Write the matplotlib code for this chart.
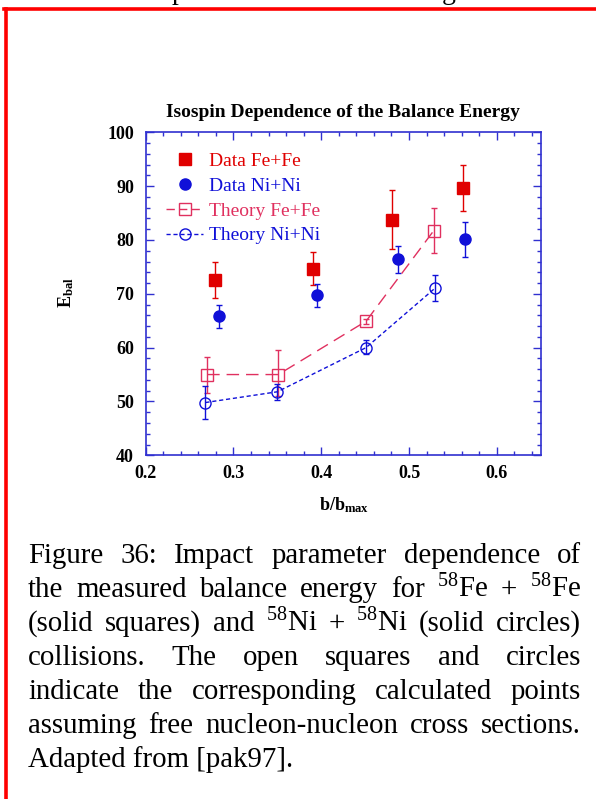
import matplotlib
matplotlib.use("Agg")
import matplotlib.pyplot as plt
from matplotlib.lines import Line2D
from matplotlib.ticker import MultipleLocator

plt.rcParams['font.family'] = ['Liberation Serif', 'DejaVu Serif']
plt.rcParams['mathtext.fontset'] = 'custom'
plt.rcParams['mathtext.rm'] = 'Liberation Serif'
plt.rcParams['mathtext.bf'] = 'Liberation Serif:bold'
plt.rcParams['mathtext.it'] = 'Liberation Serif:italic'

# ---- data ----
fe_data_x = [0.279, 0.391, 0.481, 0.562]
fe_data_y = [72.6, 74.6, 83.7, 89.7]
fe_data_lo = [69.2, 71.6, 78.4, 85.3]
fe_data_hi = [75.9, 77.7, 89.3, 94.0]

ni_data_x = [0.284, 0.395, 0.487, 0.564]
ni_data_y = [65.9, 69.8, 76.5, 80.2]
ni_data_lo = [63.6, 67.6, 73.8, 76.9]
ni_data_hi = [68.0, 71.8, 78.9, 83.4]

fe_th_x = [0.270, 0.351, 0.451, 0.528]
fe_th_y = [55.0, 55.0, 64.9, 81.7]
fe_th_lo = [51.6, 51.0, 64.4, 77.5]
fe_th_hi = [58.2, 59.5, 65.4, 85.9]

ni_th_x = [0.268, 0.350, 0.451, 0.530]
ni_th_y = [49.8, 51.8, 60.0, 71.1]
ni_th_lo = [46.7, 50.3, 58.8, 68.7]
ni_th_hi = [52.9, 53.2, 61.4, 73.4]

labels = ["Data Fe+Fe", "Data Ni+Ni", "Theory Fe+Fe", "Theory Ni+Ni"]

x_ticks = [0.2, 0.3, 0.4, 0.5, 0.6]
x_tick_labels = ["0.2", "0.3", "0.4", "0.5", "0.6"]
y_ticks = [40, 50, 60, 70, 80, 90, 100]
y_tick_labels = ["40", "50", "60", "70", "80", "90", "100"]

title = "Isospin Dependence of the Balance Energy"
caption_lines = [
    "Figure 36: Impact parameter dependence of",
    "the measured balance energy for $^{58}$Fe + $^{58}$Fe",
    "(solid squares) and $^{58}$Ni + $^{58}$Ni (solid circles)",
    "collisions. The open squares and circles",
    "indicate the corresponding calculated points",
    "assuming free nucleon-nucleon cross sections.",
    "Adapted from [pak97].",
]

RED = '#e00000'
PINK = '#e0305f'
BLUE = '#1010d8'
SPINE = '#3030d0'

W, H = 596, 799
fig = plt.figure(figsize=(W / 100, H / 100), dpi=100)

def fx(px):
    return px / W

def fy(py):
    return 1 - py / H

ax = fig.add_axes([fx(145.7), fy(455.3), fx(540.7) - fx(145.7), fy(132.3) - fy(455.3)])

def err(y, lo, hi):
    return [[a - b for a, b in zip(y, lo)], [b - a for a, b in zip(y, hi)]]

ax.errorbar(fe_data_x, fe_data_y, yerr=err(fe_data_y, fe_data_lo, fe_data_hi),
            fmt='s', color=RED, ms=8, elinewidth=1, capsize=2, capthick=1)
ax.errorbar(ni_data_x, ni_data_y, yerr=err(ni_data_y, ni_data_lo, ni_data_hi),
            fmt='o', color=BLUE, ms=8, elinewidth=1, capsize=2, capthick=1)
ax.errorbar(fe_th_x, fe_th_y, yerr=err(fe_th_y, fe_th_lo, fe_th_hi),
            fmt='s', color=PINK, mfc='none', ms=8, mew=1, elinewidth=1, capsize=2, capthick=1,
            ls=(0, (9, 5)), lw=1)
ax.errorbar(ni_th_x, ni_th_y, yerr=err(ni_th_y, ni_th_lo, ni_th_hi),
            fmt='o', color=BLUE, mfc='none', ms=8, mew=1, elinewidth=1, capsize=2, capthick=1,
            ls=(0, (3, 2)), lw=1)

ax.set_xlim(0.2, 0.65)
ax.set_ylim(40, 100)
ax.set_xticks(x_ticks)
ax.set_xticklabels(x_tick_labels, fontweight='bold', fontsize=13)
ax.set_yticks(y_ticks)
ax.set_yticklabels(y_tick_labels, fontweight='bold', fontsize=13)
ax.xaxis.set_minor_locator(MultipleLocator(0.02))
ax.yaxis.set_minor_locator(MultipleLocator(2))
ax.tick_params(which='both', direction='in', top=True, right=True, color=SPINE, width=1)
ax.tick_params(which='major', length=6)
ax.tick_params(axis='x', which='major', pad=7)
ax.tick_params(axis='y', which='major', pad=8.5)
ax.tick_params(which='minor', length=3)
for s in ax.spines.values():
    s.set_color(SPINE)
    s.set_linewidth(1.2)

ax.set_title(title, fontsize=14, fontweight='bold', pad=11)

handles = [
    Line2D([], [], marker='s', color=RED, ls='none', ms=8),
    Line2D([], [], marker='o', color=BLUE, ls='none', ms=8),
    Line2D([], [], marker='s', color=PINK, mfc='none', ms=8, mew=1, ls=(0, (6, 3)), lw=1),
    Line2D([], [], marker='o', color=BLUE, mfc='none', ms=8, mew=1, ls=(0, (3, 2)), lw=1),
]
leg = ax.legend(handles=handles, labels=labels, loc='upper left', bbox_to_anchor=(0.052, 0.938),
                frameon=False, fontsize=14, handlelength=1.9, handletextpad=0.3,
                labelspacing=0.37, borderaxespad=0, borderpad=0)
for t, c in zip(leg.get_texts(), [RED, BLUE, PINK, BLUE]):
    t.set_color(c)

fig.text(fx(66), fy(293), r'$\mathbf{E_{bal}}$', rotation=90, ha='center', va='center', fontsize=13)
fig.text(fx(344), fy(505), r'$\mathbf{b/b_{max}}$', ha='center', va='center', fontsize=13)

# red frame
fig.add_artist(Line2D([fx(5.7), fx(5.7)], [fy(8.5), fy(800)], color='red', lw=2.6,
                      transform=fig.transFigure, solid_capstyle='projecting'))
fig.add_artist(Line2D([fx(4), fx(600)], [fy(8.5), fy(8.5)], color='red', lw=2.6,
                      transform=fig.transFigure))

# clipped text fragments at top of page (remains of the previous text line)
fig.text(fx(179), fy(-1), 'p', ha='center', va='baseline', fontsize=20)
fig.text(fx(449), fy(-1), 'g', ha='center', va='baseline', fontsize=20)

# caption, justified
renderer = fig.canvas.get_renderer()
probe = fig.text(0, 0, caption_lines[-1], fontsize=20)
wprobe = probe.get_window_extent(renderer).width
probe.remove()
cap_fs = 20 * 265 / wprobe

left, right = 28, 581
base0, step = 563, 34
for i, line in enumerate(caption_lines):
    yb = fy(base0 + i * step)
    if i == len(caption_lines) - 1:
        fig.text(fx(left), yb, line, fontsize=cap_fs, va='baseline', ha='left')
        continue
    words = line.split(' ')
    arts = [fig.text(0, yb, w, fontsize=cap_fs, va='baseline', ha='left') for w in words]
    widths = [a.get_window_extent(renderer).width for a in arts]
    gap = (right - left - sum(widths)) / (len(words) - 1)
    x = left
    for a, w in zip(arts, widths):
        a.set_x(fx(x))
        x += w + gap

fig.savefig('out.png', dpi=100)
